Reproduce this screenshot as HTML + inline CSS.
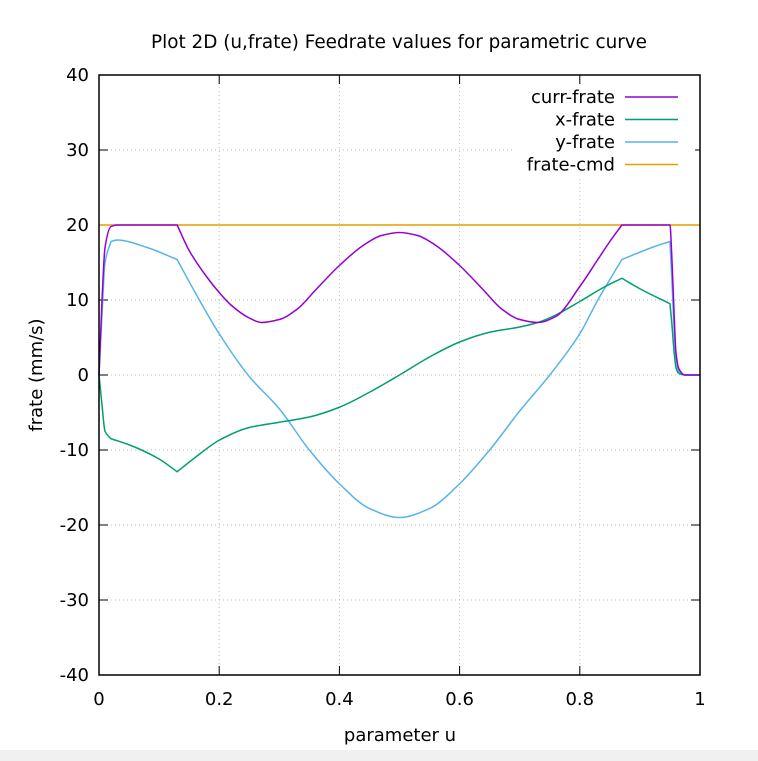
<!DOCTYPE html>
<html><head><meta charset="utf-8"><style>
body{margin:0;background:#fff;}
svg{display:block;font-family:"DejaVu Sans","Liberation Sans",sans-serif;}
</style></head><body>
<svg id="c" width="758" height="761">
<rect x="0" y="750" width="758" height="11" fill="#f0f0f0"/>
<text x="399" y="48" font-size="18.4" text-anchor="middle">Plot 2D (u,frate) Feedrate values for parametric curve</text>
<text x="400" y="741" font-size="18" text-anchor="middle">parameter u</text>
<text transform="translate(42,375) rotate(-90)" font-size="18" text-anchor="middle">frate (mm/s)</text>
<g id="grid"></g><g id="ticks"></g><g id="series"></g>
<rect x="99" y="75" width="601" height="600" fill="none" stroke="#000" stroke-width="1.5"/>
<g id="legend"></g>
</svg>
<script>
const xTicks=[0,0.2,0.4,0.6,0.8,1];
const xTickLabels=["0","0.2","0.4","0.6","0.8","1"];
const yTicks=[-40,-30,-20,-10,0,10,20,30,40];
const yTickLabels=["-40","-30","-20","-10","0","10","20","30","40"];
const seriesNames=["curr-frate","x-frate","y-frate","frate-cmd"];
const currU=[0,0.005,0.01,0.02,0.03,0.13,0.15,0.18,0.2,0.22,0.25,0.27,0.3,0.33,0.36,0.4,0.44,0.47,0.5,0.53,0.56,0.6,0.64,0.67,0.7,0.73,0.76,0.8,0.83,0.85,0.87,0.95,0.953,0.957,0.96,0.965,0.975,1];
const currV=[0,10,17,19.8,20,20,16.6,13,11,9.3,7.6,7.0,7.4,8.8,11.3,14.6,17.3,18.6,19,18.6,17.3,14.6,11.3,8.8,7.4,7.0,7.8,11.8,15.4,17.8,20,20,16,8,3,0.8,0,0];
const currBreaks=[5,30];
const xU=[0,0.005,0.01,0.02,0.05,0.1,0.13,0.16,0.2,0.25,0.3,0.35,0.4,0.45,0.5,0.55,0.6,0.65,0.7,0.73,0.76,0.8,0.84,0.87,0.9,0.95,0.953,0.957,0.96,0.965,0.975,1];
const xV=[0,-4,-7.5,-8.5,-9.3,-11.2,-12.9,-11,-8.7,-7,-6.3,-5.6,-4.3,-2.3,0,2.4,4.4,5.7,6.4,7,8,9.8,11.7,12.9,11.5,9.5,7,3,1,0.2,0,0];
const xBreaks=[3,6,23,25];
const yU=[0,0.005,0.01,0.02,0.03,0.08,0.13,0.16,0.2,0.25,0.3,0.35,0.4,0.45,0.5,0.55,0.6,0.65,0.7,0.75,0.8,0.83,0.87,0.92,0.95,0.953,0.957,0.96,0.965,0.975,1];
const yV=[0,8,15,17.8,18,17,15.4,11,5.5,-0.2,-4.5,-10,-14.5,-17.8,-19,-17.8,-14.5,-10,-4.8,0,5.5,10,15.4,17,17.8,13,6,2.5,0.5,0,0];
const yBreaks=[3,6,22,24];
const cmdU=[0,1];
const cmdV=[20,20];
const colors=["#9400d3","#009e73","#56b4e9","#e69f00"];
const X=u=>99+u*601, Y=v=>375+(-v)*7.5;
const NS="http://www.w3.org/2000/svg";
function mk(t,a,p){const e=document.createElementNS(NS,t);for(const k in a)e.setAttribute(k,a[k]);document.getElementById(p).appendChild(e);return e;}
function monoSeg(xs,ys,first){
 const n=xs.length;let s=first?'M'+xs[0]+','+ys[0]:'';
 if(n<3){for(let i=1;i<n;i++)s+='L'+xs[i]+','+ys[i];return s;}
 const d=[],m=[];
 for(let i=0;i<n-1;i++)d.push((ys[i+1]-ys[i])/(xs[i+1]-xs[i]));
 m[0]=d[0];m[n-1]=d[n-2];
 for(let i=1;i<n-1;i++){ if(d[i-1]*d[i]<=0)m[i]=0; else {const h0=xs[i]-xs[i-1],h1=xs[i+1]-xs[i];m[i]=3*(h0+h1)/((2*h1+h0)/d[i-1]+(h1+2*h0)/d[i]);} }
 for(let i=0;i<n-1;i++){const h=(xs[i+1]-xs[i])/3;s+='C'+(xs[i]+h)+','+(ys[i]+m[i]*h)+' '+(xs[i+1]-h)+','+(ys[i+1]-m[i+1]*h)+' '+xs[i+1]+','+ys[i+1];}
 return s;
}
function pathBroken(xs,ys,breaks){
 const idx=[0,...breaks,xs.length-1];let s='';
 for(let k=0;k<idx.length-1;k++){s+=monoSeg(xs.slice(idx[k],idx[k+1]+1),ys.slice(idx[k],idx[k+1]+1),k===0);}
 return s;
}
xTicks.forEach((t,i)=>{
 if(t>0&&t<1){const g=mk('line',{x1:X(t),x2:X(t),y1:75,y2:675,stroke:'#bbb','stroke-dasharray':'1,3'},'grid');
 
 }
 const a=mk('line',{x1:X(t),x2:X(t),y1:675,y2:666,stroke:'#000'},'ticks');
 
 
 const b=mk('line',{x1:X(t),x2:X(t),y1:75,y2:84,stroke:'#000'},'ticks');
 
 
 const l=mk('text',{x:X(t),y:705,'font-size':18,'text-anchor':'middle'},'ticks');l.textContent=xTickLabels[i];
 
 
});
yTicks.forEach((t,i)=>{
 if(t>-40&&t<40){const g=mk('line',{x1:99,x2:700,y1:Y(t),y2:Y(t),stroke:'#bbb','stroke-dasharray':'1,3'},'grid');
 
 }
 const a=mk('line',{x1:99,x2:108,y1:Y(t),y2:Y(t),stroke:'#000'},'ticks');
 
 
 const b=mk('line',{x1:700,x2:691,y1:Y(t),y2:Y(t),stroke:'#000'},'ticks');
 
 
 const l=mk('text',{x:89,y:Y(t)+6,'font-size':18,'text-anchor':'end'},'ticks');l.textContent=yTickLabels[i];
 
 
});
const lb=mk('rect',{x:515,y:84,width:180,height:92,fill:'#fff'},'legend');


const all=[[cmdU,cmdV,3,[]],[yU,yV,2,yBreaks],[xU,xV,1,xBreaks],[currU,currV,0,currBreaks]];
all.forEach(([us,vs,ci,br])=>{
 const p=mk('path',{d:pathBroken(us.map(X),vs.map(Y),br),fill:'none',stroke:colors[ci],'stroke-width':1.5},'series');
 
 
});
seriesNames.forEach((n,i)=>{
 const y=97+i*22.5;
 const t=mk('text',{x:615,y:y+6,'font-size':18,'text-anchor':'end'},'legend');t.textContent=n;
 
 
 const l=mk('line',{x1:625,x2:678,y1:y,y2:y,stroke:colors[i],'stroke-width':1.5},'legend');
 
 
});
</script>
</body></html>
